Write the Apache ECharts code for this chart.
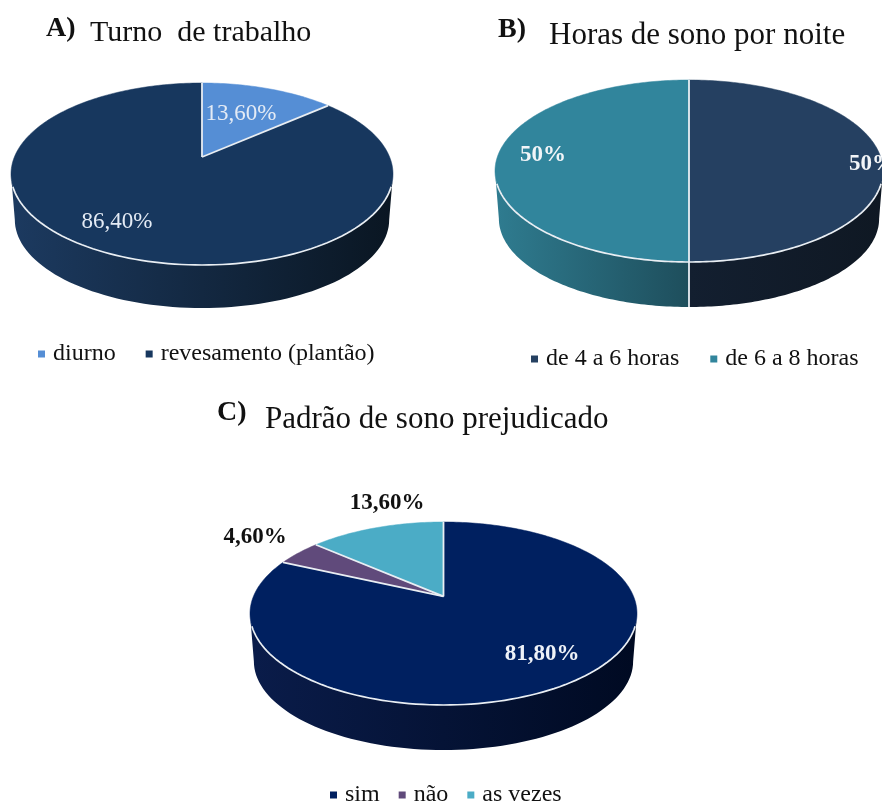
<!DOCTYPE html>
<html>
<head>
<meta charset="utf-8">
<title>Turno, horas de sono e padrão de sono</title>
<style>
html, body { margin: 0; padding: 0; background: #fff; }
#chart { width: 882px; height: 802px; filter: blur(0.5px); }
</style>
<script src="https://cdn.jsdelivr.net/npm/echarts@6/dist/echarts.min.js"></script>
</head>
<body>
<div id="chart"></div>
<script>
// valores
var turnoCategories = ['diurno', 'revesamento (plantão)'];
var turnoValues = [13.6, 86.4];
var turnoLabels = ['13,60%', '86,40%'];

var horasCategories = ['de 4 a 6 horas', 'de 6 a 8 horas'];
var horasValues = [50, 50];
var horasLabels = ['50%', '50%'];

var padraoCategories = ['sim', 'não', 'as vezes'];
var padraoValues = [81.8, 4.6, 13.6];
var padraoLabels = ['81,80%', '4,60%', '13,60%'];

var FONT = '"Liberation Serif", "Times New Roman", serif';

// geometria e estilo de cada pizza
var pies = [{
    categories: turnoCategories, values: turnoValues, labels: turnoLabels,
    cx: 202, cy: 174, rx: 191, ry: 91, depth: 43,
    colors: ['#558ed5', '#17375e'],
    walls: [null, ['#1c3a60', '#0a1622']],
    labelPos: [[241, 114], [117, 222]],
    labelColor: ['#e4ebf5', '#e4ebf5'], labelBold: false, labelSize: 23
}, {
    categories: horasCategories, values: horasValues, labels: horasLabels,
    cx: 689, cy: 171, rx: 194, ry: 91, depth: 45,
    colors: ['#254061', '#31859c'],
    walls: [['#131f30', '#0f1823'], ['#2f7c90', '#1e4e5c']],
    labelPos: [[872, 164], [543, 155]],
    labelColor: ['#f2f5f8', '#f2f5f8'], labelBold: true, labelSize: 23
}, {
    categories: padraoCategories, values: padraoValues, labels: padraoLabels,
    cx: 443.5, cy: 613.5, rx: 193.5, ry: 91.5, depth: 45,
    colors: ['#002060', '#604a7b', '#4bacc6'],
    walls: [['#0a1c4a', '#000a22'], null, null],
    labelPos: [[542, 654], [255, 537], [387, 503]],
    labelColor: ['#eef2f8', '#111111', '#111111'], labelBold: true, labelSize: 23
}];

var apexShift = -0.187;

// ponto da borda (ângulo real a partir do topo, sentido horário) em coordenadas da elipse
var rimPoint = function(a){
    var x = Math.sin(a), y = -Math.cos(a);
    var d = 1 + apexShift * y;
    return [x * Math.sqrt(1 - apexShift * apexShift) / d, (y + apexShift) / d];
};

var rimParam = function(a){
    var p = rimPoint(a);
    var phi = Math.atan2(p[0], -p[1]);
    if(phi < -1e-6) phi += Math.PI * 2;
    return phi;
};

var makeSliceSeries = function(pie, index){
    var total = 0, before = 0;
    for(var i = 0; i < pie.values.length; i++){
        if(i < index) before += pie.values[i];
        total += pie.values[i];
    }
    return {
        type: 'custom',
        name: pie.categories[index],
        coordinateSystem: 'none',
        silent: true,
        animation: false,
        itemStyle: { color: pie.colors[index] },
        data: [[pie.values[index]]],
        renderItem: function(params, api){
            var a0 = before / total * Math.PI * 2;
            var a1 = (before + api.value(0)) / total * Math.PI * 2;
            var lowerRy = pie.ry * 0.97, lowerRx = pie.rx * 0.98;
            var lowerCy = pie.cy + pie.ry + pie.depth - lowerRy;
            var apex = [pie.cx, pie.cy + apexShift * pie.ry];
            var onTop = function(phi){
                return [pie.cx + pie.rx * Math.sin(phi), pie.cy - pie.ry * Math.cos(phi)];
            };
            var onBottom = function(phi){
                return [pie.cx + lowerRx * Math.sin(phi), lowerCy - lowerRy * Math.cos(phi)];
            };
            var children = [];
            var steps = Math.max(4, Math.ceil((a1 - a0) / 0.02));
            var top = [apex];
            for(var s = 0; s <= steps; s++){
                var p = rimPoint(a0 + (a1 - a0) * s / steps);
                top.push([pie.cx + pie.rx * p[0], pie.cy + pie.ry * p[1]]);
            }
            children.push({
                type: 'polygon', z2: 2,
                shape: { points: top },
                style: { fill: pie.colors[index], stroke: pie.colors[index], lineWidth: 0.5 }
            });
            // lateral: só a parte da frente da fatia
            var phi0 = rimParam(a0);
            var phi1 = a1 >= Math.PI * 2 - 1e-6 ? Math.PI * 2 : rimParam(a1);
            var from = Math.max(phi0, Math.PI / 2), to = Math.min(phi1, Math.PI * 1.5);
            if(pie.walls[index] && to > from){
                var wall = [], n = 80, k;
                for(k = 0; k <= n; k++) wall.push(onTop(from + (to - from) * k / n));
                for(k = n; k >= 0; k--) wall.push(onBottom(from + (to - from) * k / n));
                children.push({
                    type: 'polygon', z2: 1,
                    shape: { points: wall },
                    style: {
                        fill: new echarts.graphic.LinearGradient(0, 0, 1, 0, [
                            { offset: 0, color: pie.walls[index][0] },
                            { offset: 1, color: pie.walls[index][1] }
                        ])
                    }
                });
                // filete branco na frente
                var rimFrom = Math.max(from, Math.PI / 2 + 0.14), rimTo = Math.min(to, Math.PI * 1.5 - 0.14);
                var rim = [];
                for(k = 0; k <= n; k++) rim.push(onTop(rimFrom + (rimTo - rimFrom) * k / n));
                children.push({
                    type: 'polyline', z2: 5,
                    shape: { points: rim },
                    style: { fill: 'none', stroke: '#e9eef3', lineWidth: 1.7 }
                });
            }
            // divisão radial no início da fatia
            var edge = onTop(phi0);
            children.push({
                type: 'line', z2: 6,
                shape: { x1: apex[0], y1: apex[1], x2: edge[0], y2: edge[1] },
                style: { stroke: '#e9eef3', lineWidth: 1.8 }
            });
            if(phi0 > Math.PI / 2 && phi0 < Math.PI * 1.5){
                var low = onBottom(phi0);
                children.push({
                    type: 'line', z2: 6,
                    shape: { x1: edge[0], y1: edge[1], x2: low[0], y2: low[1] },
                    style: { stroke: '#e9eef3', lineWidth: 1.8 }
                });
            }
            children.push({
                type: 'text', z2: 10,
                x: pie.labelPos[index][0], y: pie.labelPos[index][1],
                style: {
                    text: pie.labels[index],
                    fill: pie.labelColor[index],
                    font: (pie.labelBold ? 'bold ' : '') + pie.labelSize + 'px ' + FONT,
                    align: 'center',
                    verticalAlign: 'middle'
                }
            });
            return { type: 'group', children: children };
        }
    };
};

var series = [];
for(var i = 0; i < pies.length; i++){
    for(var j = 0; j < pies[i].values.length; j++){
        series.push(makeSliceSeries(pies[i], j));
    }
}

var heading = function(text, left, top, size, bold){
    return {
        text: text, left: left, top: top, padding: 0,
        textStyle: { fontFamily: FONT, fontSize: size, fontWeight: bold ? 'bold' : 'normal', color: '#111111' }
    };
};

var legendBox = function(names, left, top, gap){
    return {
        data: names, left: left, top: top, padding: 0, icon: 'rect',
        itemWidth: 7, itemHeight: 7, itemGap: gap,
        selectedMode: false,
        textStyle: { fontFamily: FONT, fontSize: 24, color: '#111111', padding: [0, 0, 0, 3] }
    };
};

var chart = echarts.init(document.getElementById('chart'), null, { renderer: 'canvas' });
chart.setOption({
    backgroundColor: '#ffffff',
    animation: false,
    title: [
        heading('A)', 46, 15, 28, true),
        heading('Turno  de trabalho', 90, 18, 30, false),
        heading('B)', 498, 16, 28, true),
        heading('Horas de sono por noite', 549, 20, 31, false),
        heading('C)', 217, 399, 28, true),
        heading('Padrão de sono prejudicado', 265, 404, 31, false)
    ],
    legend: [
        legendBox(turnoCategories, 38, 342, 30),
        legendBox(horasCategories, 531, 347, 31),
        legendBox(padraoCategories, 330, 783, 19)
    ],
    series: series
});
</script>
</body>
</html>
